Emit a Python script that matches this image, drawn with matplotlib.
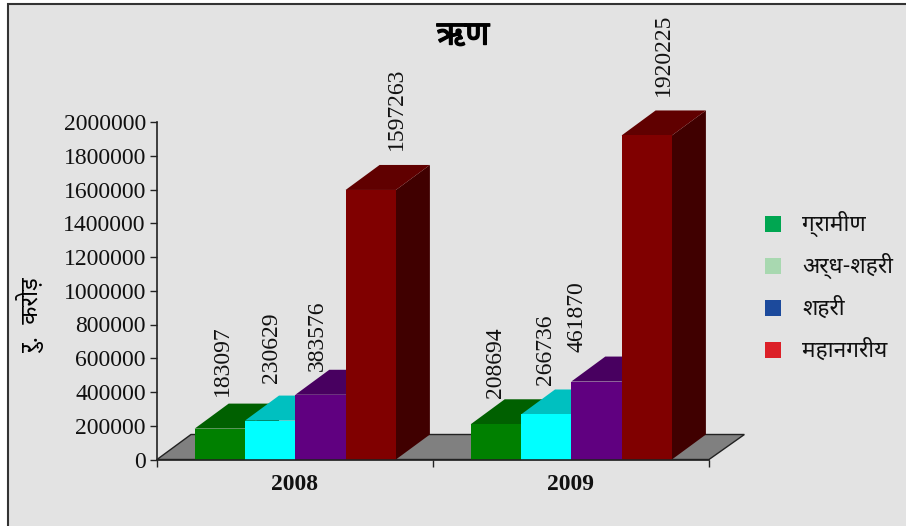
import matplotlib
matplotlib.use('Agg')
import matplotlib.pyplot as plt
import matplotlib.patheffects as pe
from matplotlib.patches import Polygon, Rectangle

years = ['2008', '2009']
series_names = ['ग्रामीण', 'अर्ध-शहरी', 'शहरी', 'महानगरीय']
values_2008 = [183097, 230629, 383576, 1597263]
values_2009 = [208694, 266736, 461870, 1920225]
y_ticks = [0, 200000, 400000, 600000, 800000, 1000000, 1200000, 1400000, 1600000, 1800000, 2000000]
title_text = 'ऋण'
ylabel_text = 'रु.  करोड़'

front = ['#008000', '#00ffff', '#600080', '#800000']
top = ['#006000', '#00c0c0', '#480060', '#600000']
side = ['#004000', '#008080', '#300040', '#400000']
legend_colors = ['#00a651', '#a8d8b0', '#1c4a9c', '#dc2028']

W, H = 906, 526
fig = plt.figure(figsize=(W/100, H/100), dpi=100, facecolor='white')
frame = Rectangle((8/W, -0.01), 1, 1.01-4/H, transform=fig.transFigure, fc='#e3e3e3', ec='#333333', lw=1.5, zorder=-5)
fig.patches.append(frame)
ax = fig.add_axes([157/W, (H-459.5)/H, 552/W, 337.5/H])
ax.patch.set_alpha(0)
ax.set_xlim(0, 2)
ax.set_ylim(0, 2000000)
dx = 34/276
dy = 25/337.5*2000000
serif = 'Liberation Serif'
ax.add_patch(Polygon([(0, 0), (dx, dy), (2+dx+0.005, dy), (2, 0)], fc='#808080', ec='#222222', lw=1, clip_on=False, zorder=1))
w = 50.3/276
for g, vals in enumerate([values_2008, values_2009]):
    for j, v in enumerate(vals):
        x0 = g + 37.7/276 + j*w
        x1 = x0 + w
        ax.add_patch(Polygon([(x1, 0), (x1+dx, dy), (x1+dx, v+dy), (x1, v)], fc=side[j], ec='none', clip_on=False, zorder=2+j))
        ax.add_patch(Polygon([(x0, v), (x0+dx, v+dy), (x1+dx, v+dy), (x1, v)], fc=top[j], ec='none', clip_on=False, zorder=2+j))
        ax.add_patch(Rectangle((x0, 0), w, v, fc=front[j], ec='none', clip_on=False, zorder=2+j))

label_px = [[(222, 396), (272, 383), (317, 371), (396, 150)], [(495, 398), (545, 385), (577, 352), (663, 96)]]
for g, vals in enumerate([values_2008, values_2009]):
    for j, v in enumerate(vals):
        px, py = label_px[g][j]
        fig.text(px/W, 1-py/H, str(v), rotation=90, ha='center', va='bottom', family=serif, fontsize=17, color='#111111')

for s in ['top', 'right']:
    ax.spines[s].set_visible(False)
for s in ['left', 'bottom']:
    ax.spines[s].set_color('#222222')
    ax.spines[s].set_linewidth(1.2)
    ax.spines[s].set_zorder(20)
ax.set_yticks(y_ticks)
ax.set_yticklabels([str(t) for t in y_ticks], family=serif, fontsize=17, color='#111111')
ax.set_xticks([0, 1, 2])
ax.set_xticklabels([])
ax.tick_params(axis='both', length=5, width=1, color='#222222', pad=3)
ax.set_xticks([0.5, 1.5], minor=True)
ax.set_xticklabels(years, minor=True, family=serif, fontsize=17, fontweight='bold', color='#111111')
ax.tick_params(axis='x', which='minor', length=0, pad=10.5)

devfam = ['Noto Sans Devanagari', 'Lohit Devanagari', 'Mangal', 'DejaVu Sans']
t = fig.text(463/W, 1-36/H, title_text, ha='center', va='center', fontsize=24, fontweight='bold', family=devfam)
t.set_path_effects([pe.withStroke(linewidth=1.0, foreground='black')])
fig.text(31/W, 1-316/H, ylabel_text, rotation=90, ha='center', va='center', fontsize=17, family=devfam)
for i, (n, c) in enumerate(zip(series_names, legend_colors)):
    yc = 224 + i*42
    fig.patches.append(Rectangle((765/W, 1-(yc+8)/H), 16/W, 16/H, transform=fig.transFigure, fc=c, ec='none'))
    fig.text(802/W, 1-yc/H, n, ha='left', va='center', fontsize=16.3, family=devfam, color='#111111')
fig.savefig('out.png', dpi=100, facecolor=fig.get_facecolor())
